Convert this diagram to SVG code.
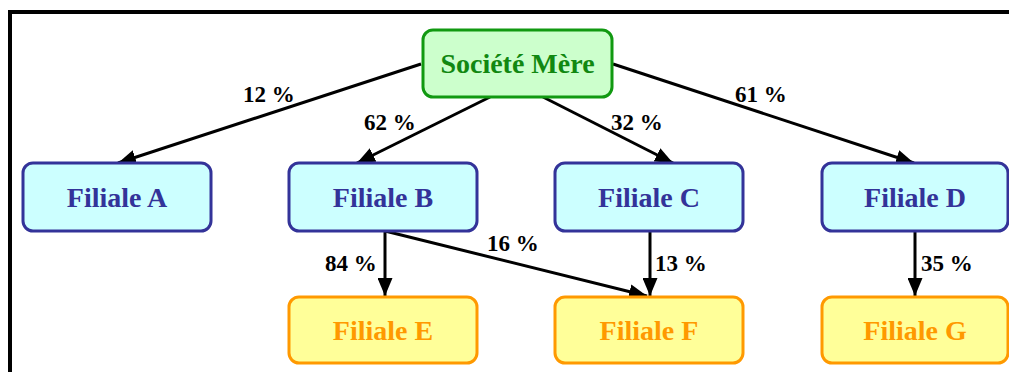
<svg xmlns="http://www.w3.org/2000/svg" width="1009" height="372" viewBox="0 0 1009 372">
<style>
.frame{fill:none;stroke:#000;stroke-width:4}
.box rect{stroke-width:3}
.mere rect{fill:#ccffcc;stroke:#119911}
.mere text{fill:#118811}
.blue rect{fill:#ccffff;stroke:#333399}
.blue text{fill:#333399}
.yel rect{fill:#ffff99;stroke:#ff9900}
.yel text{fill:#ff9900}
.box text{font-family:"Liberation Serif",serif;font-weight:bold;font-size:28px;text-anchor:middle}
.edge{stroke:#000;stroke-width:3;fill:none;marker-end:url(#ah)}
.lbl{font-family:"Liberation Serif",serif;font-weight:bold;font-size:23px;fill:#000}
</style>
<defs>
<marker id="ah" markerWidth="6" markerHeight="5" refX="6" refY="2.5" orient="auto" markerUnits="strokeWidth">
<path d="M0,0 L6,2.5 L0,5 Z" fill="#000"/>
</marker>
</defs>
<rect x="0" y="0" width="1009" height="372" fill="#fff"/>
<rect class="frame" x="10" y="12" width="1020" height="380"/>
<g id="connectors">
<line class="edge" x1="421" y1="64" x2="118" y2="163"/>
<line class="edge" x1="490" y1="97" x2="357" y2="163"/>
<line class="edge" x1="543" y1="97" x2="673" y2="163"/>
<line class="edge" x1="613" y1="64" x2="914" y2="163"/>
<line class="edge" x1="385" y1="231" x2="385" y2="296"/>
<line class="edge" x1="385" y1="231" x2="647" y2="296"/>
<line class="edge" x1="650" y1="231" x2="650" y2="296"/>
<line class="edge" x1="915" y1="231" x2="915" y2="296"/>
<text class="lbl" x="243" y="102">12 %</text>
<text class="lbl" x="364" y="130">62 %</text>
<text class="lbl" x="611" y="130">32 %</text>
<text class="lbl" x="735" y="102">61 %</text>
<text class="lbl" x="325" y="271">84 %</text>
<text class="lbl" x="487" y="251">16 %</text>
<text class="lbl" x="655" y="271">13 %</text>
<text class="lbl" x="921" y="271">35 %</text>
</g>
<g id="mere" class="box mere"><rect x="423" y="30" width="189" height="67" rx="10"/><text x="517.5" y="73">Société Mère</text></g>
<g id="filialeA" class="box blue"><rect x="23" y="163" width="188" height="68" rx="10"/><text x="117" y="207">Filiale A</text></g>
<g id="filialeB" class="box blue"><rect x="289" y="163" width="188" height="68" rx="10"/><text x="383" y="207">Filiale B</text></g>
<g id="filialeC" class="box blue"><rect x="555" y="163" width="188" height="68" rx="10"/><text x="649" y="207">Filiale C</text></g>
<g id="filialeD" class="box blue"><rect x="822" y="163" width="186" height="68" rx="10"/><text x="915" y="207">Filiale D</text></g>
<g id="filialeE" class="box yel"><rect x="289" y="297" width="188" height="66" rx="10"/><text x="383" y="340">Filiale E</text></g>
<g id="filialeF" class="box yel"><rect x="555" y="297" width="188" height="66" rx="10"/><text x="649" y="340">Filiale F</text></g>
<g id="filialeG" class="box yel"><rect x="822" y="297" width="186" height="66" rx="10"/><text x="915" y="340">Filiale G</text></g>
</svg>
